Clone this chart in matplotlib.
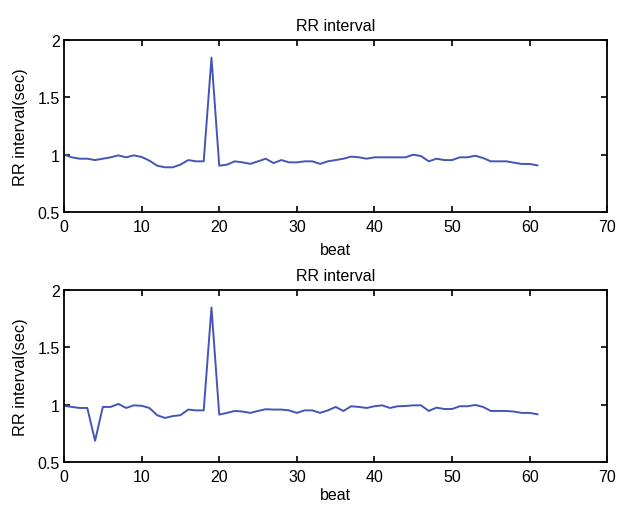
import matplotlib.pyplot as plt
import numpy as np

plt.rcParams['font.family'] = ['Liberation Sans', 'DejaVu Sans']

beat = np.arange(0, 62)

rr_top = [1.00, 0.977, 0.965, 0.965, 0.953, 0.965, 0.977, 0.994, 0.977, 0.994,
          0.980, 0.948, 0.904, 0.890, 0.890, 0.913, 0.953, 0.942, 0.942, 1.846,
          0.904, 0.913, 0.942, 0.933, 0.920, 0.942, 0.965, 0.927, 0.953, 0.933,
          0.933, 0.942, 0.942, 0.920, 0.942, 0.953, 0.965, 0.983, 0.977, 0.965,
          0.977, 0.977, 0.977, 0.977, 0.977, 1.000, 0.988, 0.942, 0.965, 0.953,
          0.953, 0.977, 0.977, 0.991, 0.971, 0.942, 0.942, 0.942, 0.930, 0.919,
          0.919, 0.907]

rr_bottom = [0.990, 0.980, 0.971, 0.971, 0.685, 0.980, 0.980, 1.006, 0.971, 0.994,
             0.990, 0.971, 0.908, 0.884, 0.900, 0.908, 0.957, 0.950, 0.950, 1.847,
             0.913, 0.928, 0.945, 0.940, 0.928, 0.945, 0.960, 0.957, 0.957, 0.950,
             0.928, 0.950, 0.950, 0.928, 0.950, 0.980, 0.945, 0.986, 0.980, 0.971,
             0.986, 0.994, 0.971, 0.986, 0.988, 0.994, 0.994, 0.945, 0.974, 0.962,
             0.962, 0.986, 0.986, 0.997, 0.980, 0.945, 0.945, 0.945, 0.939, 0.928,
             0.928, 0.916]

xticks = [0, 10, 20, 30, 40, 50, 60, 70]
yticks = [0.5, 1, 1.5, 2]
ytick_labels = ['0.5', '1', '1.5', '2']

fig = plt.figure(figsize=(6.18, 5.06), dpi=100)
ax1 = fig.add_axes([0.1036, 0.579, 0.879, 0.340])
ax2 = fig.add_axes([0.1036, 0.085, 0.879, 0.340])

for ax, rr, lp in [(ax1, rr_top, 6), (ax2, rr_bottom, 2)]:
    ax.plot(beat, rr, color='#4455b5', linewidth=1.4)
    ax.set_xlim(0, 70)
    ax.set_ylim(0.5, 2)
    ax.set_xticks(xticks)
    ax.set_yticks(yticks)
    ax.set_yticklabels(ytick_labels)
    ax.tick_params(direction='in', top=True, right=True, labelsize=11.5,
                   length=4, width=1.2)
    ax.tick_params(axis='x', pad=5)
    ax.tick_params(axis='y', pad=3)
    for s in ax.spines.values():
        s.set_linewidth(1.3)
    ax.set_title('RR interval', fontsize=11.5, pad=7)
    ax.set_xlabel('beat', fontsize=11.5, labelpad=lp)
    ax.set_ylabel('RR interval(sec)', fontsize=11.7, labelpad=7)

fig.savefig('out.png', dpi=100)
